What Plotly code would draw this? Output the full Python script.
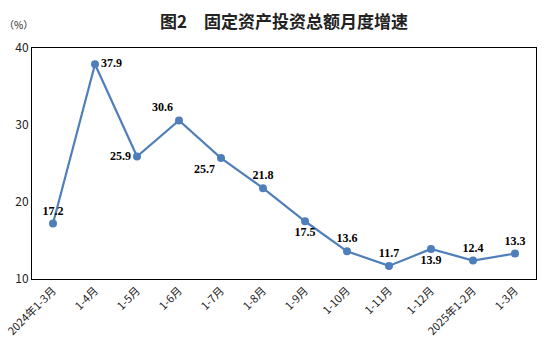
import plotly.graph_objects as go

categories = ["2024年1-3月", "1-4月", "1-5月", "1-6月", "1-7月", "1-8月", "1-9月",
              "1-10月", "1-11月", "1-12月", "2025年1-2月", "1-3月"]
cat_keys = [f"c{i}" for i in range(len(categories))]
values = [17.2, 37.9, 25.9, 30.6, 25.7, 21.8, 17.5, 13.6, 11.7, 13.9, 12.4, 13.3]
label_pos = ["top center", "middle right", "middle left", "top left", "bottom left",
             "top center", "bottom center", "top center", "top center", "bottom center",
             "top center", "top center"]
y_ticks = [10, 20, 30, 40]

fig = go.Figure()
fig.add_trace(go.Scatter(
    x=cat_keys, y=values, mode="lines+markers+text",
    line=dict(color="#4F7FBA", width=2.2),
    marker=dict(color="#4F7FBA", size=8),
    text=[f"{v:.1f}" for v in values],
    textposition=label_pos,
    textfont=dict(family="Liberation Serif", size=12, color="black", weight="bold"),
    cliponaxis=False,
))

fig.update_layout(
    width=554, height=352,
    margin=dict(l=32, r=18, t=48, b=73),
    paper_bgcolor="white", plot_bgcolor="white",
    showlegend=False,
    xaxis=dict(
        type="category", tickmode="array", tickvals=cat_keys, ticktext=categories,
        range=[-0.5, len(categories) - 0.5], automargin=False,
        tickangle=-45, showgrid=False, zeroline=False,
        showline=True, linecolor="black", linewidth=1, mirror=True,
        ticks="", tickfont=dict(family="SimSun, Noto Sans CJK SC", size=11, color="#222"),
    ),
    yaxis=dict(
        range=[10, 40], tickvals=y_ticks, showgrid=False, zeroline=False, automargin=False,
        showline=True, linecolor="black", linewidth=1, mirror=True,
        ticks="", tickfont=dict(family="Noto Sans CJK SC", size=12, color="#222"),
    ),
    annotations=[
        dict(text="<b>图2\u3000固定资产投资总额月度增速</b>", xref="paper", yref="paper",
             x=0, y=1.0, xshift=126, yshift=28, xanchor="left", yanchor="middle",
             showarrow=False, font=dict(family="Noto Sans CJK SC", size=17, color="#222")),
        dict(text="（%）", xref="paper", yref="paper", x=0, y=1.0, xshift=-30, yshift=24,
             xanchor="left", yanchor="middle", showarrow=False,
             font=dict(family="Noto Sans CJK SC", size=10, color="#222")),
    ],
)

fig.write_html("out.html")
